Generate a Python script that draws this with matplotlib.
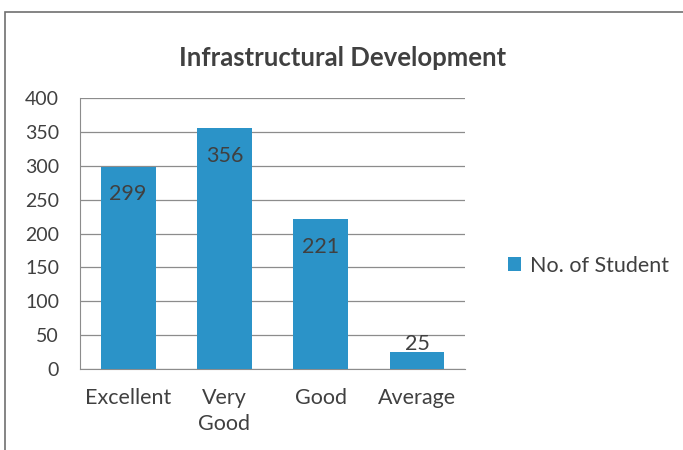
import matplotlib.pyplot as plt
from matplotlib.patches import Rectangle

categories = ['Excellent', 'Very\nGood', 'Good', 'Average']
students = [299, 356, 221, 25]
series_name = 'No. of Student'

plt.rcParams['font.family'] = ['Lato', 'DejaVu Sans']
text_col = '#404040'
bar_col = '#2B93C8'
fs = 15.5

fig = plt.figure(figsize=(6.83, 4.5), dpi=100)
ax = fig.add_axes([0.117, 0.18, 0.564, 0.602])

x = range(len(categories))
bars = ax.bar(x, students, width=0.57, color=bar_col, label=series_name, zorder=3)

for b, v in zip(bars, students):
    off = -20 if v > 50 else 6
    ax.annotate(str(v), (b.get_x() + b.get_width() / 2, v), xytext=(0, off),
                textcoords='offset points', ha='center', va='center',
                fontsize=fs, color=text_col)

ax.set_xlim(-0.5, 3.5)
ax.set_ylim(0, 400)
ax.set_yticks(range(0, 401, 50))
ax.set_xticks(list(x))
ax.set_xticklabels(categories, fontsize=fs, color=text_col, linespacing=1.35)
ax.tick_params(axis='y', labelsize=14, labelcolor=text_col, length=0, pad=15)
ax.tick_params(axis='x', length=0, pad=14)
ax.grid(axis='y', color='#8c8c8c', linewidth=0.9, zorder=0)
for s in ['top', 'right']:
    ax.spines[s].set_visible(False)
ax.spines['left'].set_color('#8c8c8c')
ax.spines['bottom'].set_color('#8c8c8c')

fig.text(0.502, 0.872, 'Infrastructural Development', ha='center', va='center',
         fontsize=18.5, fontweight='bold', color=text_col)

fig.legend(handles=[bars], labels=[series_name], loc='center left',
           bbox_to_anchor=(0.716, 0.41), frameon=False, fontsize=fs,
           handlelength=0.6, handleheight=0.6, handletextpad=0.4,
           labelcolor=text_col)

fig.patches.append(Rectangle((5 / 683, -0.05), 1.1, 1 - 12 / 450 + 0.05,
                             transform=fig.transFigure, fill=False,
                             edgecolor='#707070', linewidth=1.2))

fig.savefig('out.png', dpi=100)
